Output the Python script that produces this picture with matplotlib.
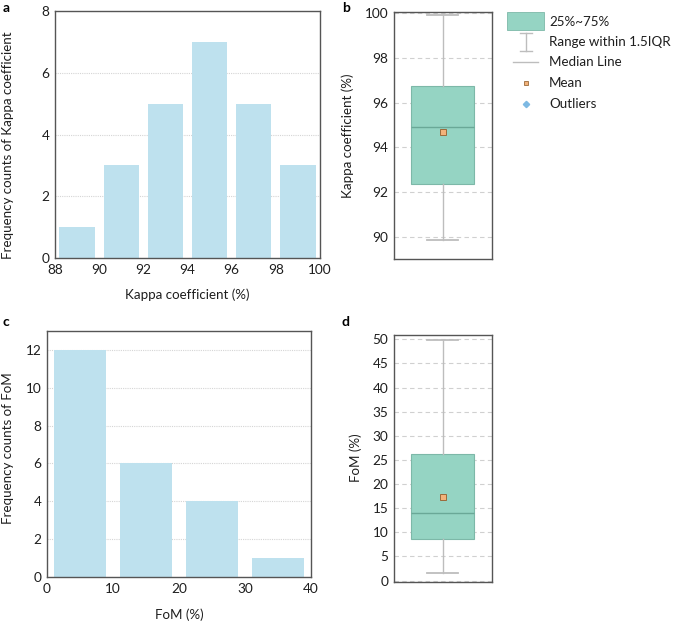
import matplotlib
matplotlib.use("Agg")
import matplotlib.pyplot as plt
from matplotlib.lines import Line2D
from matplotlib.patches import Rectangle
import numpy as np

plt.rcParams['font.family'] = ['Lato', 'DejaVu Sans']

# ---- data ----
kappa_bin_edges = [88, 90, 92, 94, 96, 98, 100]
kappa_counts = [1, 3, 5, 7, 5, 3]
fom_bin_edges = [0, 10, 20, 30, 40]
fom_counts = [12, 6, 4, 1]

kappa_box = dict(whislo=89.85, q1=92.35, med=94.9, mean=94.7, q3=96.75, whishi=99.9)
fom_box = dict(whislo=1.6, q1=8.7, med=14.1, mean=17.4, q3=26.2, whishi=49.8)

kappa_xticks = [88, 90, 92, 94, 96, 98, 100]
kappa_yticks = [0, 2, 4, 6, 8]
fom_xticks = [0, 10, 20, 30, 40]
fom_yticks = [0, 2, 4, 6, 8, 10, 12]
kbox_yticks = [90, 92, 94, 96, 98, 100]
fbox_yticks = [0, 5, 10, 15, 20, 25, 30, 35, 40, 45, 50]

legend_labels = ['25%~75%', 'Range within 1.5IQR', 'Median Line', 'Mean', 'Outliers']

# ---- style ----
BAR_C = '#BEE1EE'
BOX_C = '#95D4C3'
BOX_EDGE = '#7DB8A8'
WHISK_C = '#BDBDBD'
MED_C = '#6AA897'
MEAN_C = '#F2B27A'
MEAN_EDGE = '#9A6A3A'
OUT_C = '#7DB9E3'
SPINE_C = '#555555'
TXT_C = '#1e1e1e'
FS = 9.6
TFS = 9.8

W, H = 675, 624
fig = plt.figure(figsize=(W / 100, H / 100), dpi=100)


def ax_px(l, t, r, b):
    return fig.add_axes([l / W, 1 - b / H, (r - l) / W, (b - t) / H])


def ftext(x, y, s, **kw):
    kw.setdefault('fontsize', FS)
    kw.setdefault('color', TXT_C)
    return fig.text(x / W, 1 - y / H, s, ha='center', va='center', **kw)


def style(ax):
    for s in ax.spines.values():
        s.set_color(SPINE_C)
        s.set_linewidth(1.0)
    ax.tick_params(length=0, labelsize=TFS, pad=4, colors=TXT_C)


def hist_panel(ax, edges, counts, xticks, yticks, ylim):
    edges = np.asarray(edges, float)
    centers = (edges[:-1] + edges[1:]) / 2
    width = np.diff(edges) * 0.8
    ax.set_axisbelow(True)
    ax.yaxis.grid(True, linestyle=(0, (1, 1)), color='#D5D5D5', linewidth=0.8)
    ax.bar(centers, counts, width=width, color=BAR_C, edgecolor='none')
    ax.set_xlim(edges[0], edges[-1])
    ax.set_ylim(*ylim)
    ax.set_xticks(xticks)
    ax.set_yticks(yticks)
    style(ax)


def box_panel(ax, stats, yticks, ylim):
    st = dict(stats)
    st['fliers'] = []
    ax.set_axisbelow(True)
    ax.yaxis.grid(True, linestyle=(0, (4, 3)), color='#D0D0D0', linewidth=0.8)
    ax.bxp([st], positions=[0.4965], widths=[0.637], capwidths=[0.31],
           patch_artist=True, showmeans=True, showfliers=False,
           boxprops=dict(facecolor=BOX_C, edgecolor=BOX_EDGE, linewidth=0.8),
           whiskerprops=dict(color=WHISK_C, linewidth=1.0),
           capprops=dict(color=WHISK_C, linewidth=1.3),
           medianprops=dict(color=MED_C, linewidth=1.0),
           meanprops=dict(marker='s', markerfacecolor=MEAN_C, markeredgecolor=MEAN_EDGE,
                          markersize=4, markeredgewidth=0.7))
    ax.set_xlim(0, 1)
    ax.set_ylim(*ylim)
    ax.set_xticks([])
    ax.set_yticks(yticks)
    style(ax)


ax_a = ax_px(55, 11, 320, 258)
hist_panel(ax_a, kappa_bin_edges, kappa_counts, kappa_xticks, kappa_yticks, (0, 8))
ftext(187.5, 295, 'Kappa coefficient (%)')
ftext(8, 145, 'Frequency counts of Kappa coefficient', rotation=90)

ax_c = ax_px(47, 331, 311, 577)
hist_panel(ax_c, fom_bin_edges, fom_counts, fom_xticks, fom_yticks, (0, 13))
ftext(179, 615, 'FoM (%)')
ftext(8, 448.5, 'Frequency counts of FoM', rotation=90)

ax_b = ax_px(394, 12, 492, 259)
box_panel(ax_b, kappa_box, kbox_yticks, (89.0, 100.05))
ftext(348, 136, 'Kappa coefficient (%)', rotation=90)

ax_d = ax_px(394, 335, 492, 582)
box_panel(ax_d, fom_box, fbox_yticks, (-0.3, 50.9))
ftext(356, 458, 'FoM (%)', rotation=90)

# ---- panel letters ----
for letter, (x, y) in zip('abcd', [(6, 8), (346, 8), (6, 322), (346, 322)]):
    ftext(x, y, letter, fontsize=10, fontweight='bold', color='black')

# ---- legend (drawn in figure pixel space) ----
lg = fig.add_axes([0, 0, 1, 1], facecolor='none')
lg.set_xlim(0, W)
lg.set_ylim(H, 0)
lg.axis('off')
rows_y = [22.5, 42.5, 62.5, 83, 104]
cx = 526
lg.add_patch(Rectangle((507, 12), 37, 18, facecolor=BOX_C, edgecolor=BOX_EDGE, linewidth=0.6))
lg.add_line(Line2D([cx, cx], [33, 50.5], color=WHISK_C, linewidth=1.0))
lg.add_line(Line2D([cx - 6, cx + 6], [33, 33], color=WHISK_C, linewidth=1.0))
lg.add_line(Line2D([cx - 6, cx + 6], [50.5, 50.5], color=WHISK_C, linewidth=1.0))
lg.add_line(Line2D([513, 538], [62, 62], color=WHISK_C, linewidth=1.0))
lg.plot([cx], [83], marker='s', markersize=3.5, markerfacecolor=MEAN_C,
        markeredgecolor=MEAN_EDGE, markeredgewidth=0.6, linestyle='none')
lg.plot([cx], [104], marker='D', markersize=3.2, markerfacecolor=OUT_C,
        markeredgecolor=OUT_C, linestyle='none')
for lab, y in zip(legend_labels, rows_y):
    lg.text(549, y, lab, fontsize=FS, va='center', ha='left', color=TXT_C)

fig.savefig('out.png', dpi=100)
